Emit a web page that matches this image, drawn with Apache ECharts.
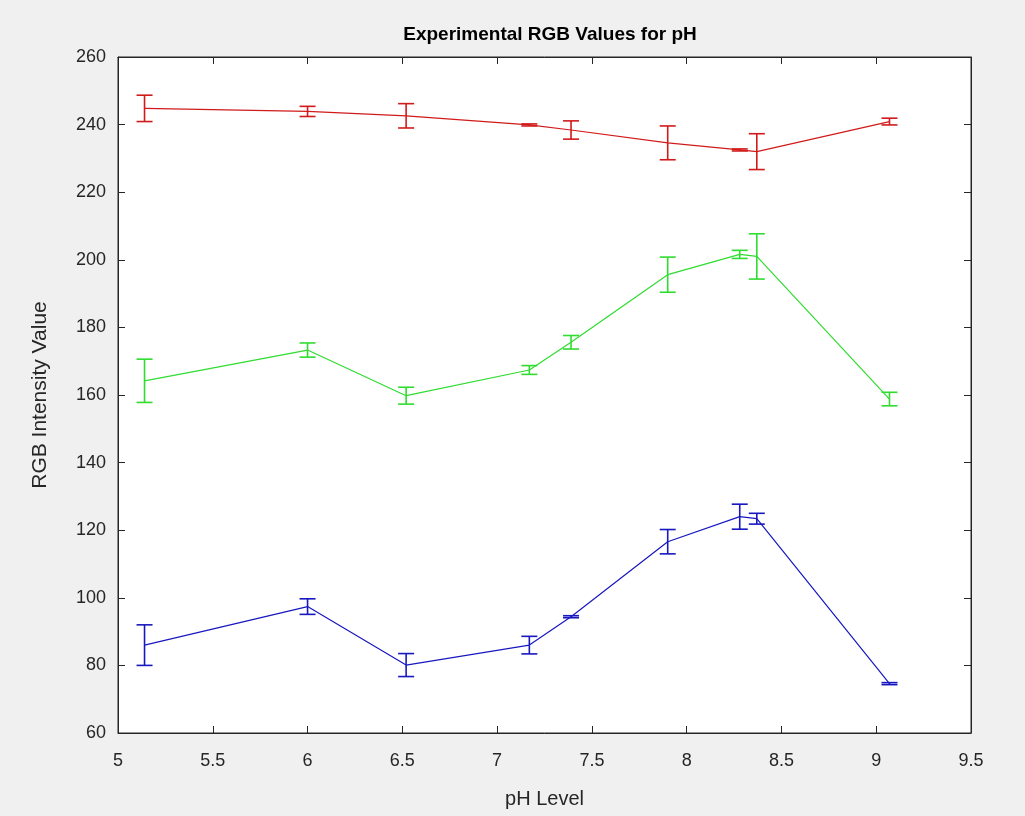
<!DOCTYPE html>
<html>
<head>
<meta charset="utf-8">
<script src="https://cdn.jsdelivr.net/npm/echarts@6/dist/echarts.min.js"></script>
<style>
html,body{margin:0;padding:0;background:#f0f0f0;}
#c{width:1025px;height:816px;}
</style>
</head>
<body>
<div id="c"></div>
<script>
const phLevels = [5.14, 6.0, 6.52, 7.17, 7.39, 7.9, 8.28, 8.37, 9.07];
const redValues   = [244.8, 243.9, 242.6, 239.9, 238.4, 234.6, 232.5, 232.0, 240.9];
const redErrors   = [3.9, 1.5, 3.6, 0.3, 2.7, 5.0, 0.3, 5.3, 1.0];
const greenValues = [164.2, 173.3, 159.8, 167.4, 175.6, 195.6, 201.6, 201.0, 158.8];
const greenErrors = [6.4, 2.1, 2.5, 1.3, 2.0, 5.2, 1.2, 6.7, 2.0];
const blueValues  = [86.0, 97.4, 80.1, 86.0, 94.4, 116.6, 124.0, 123.4, 74.6];
const blueErrors  = [6.0, 2.3, 3.4, 2.6, 0.3, 3.6, 3.7, 1.6, 0.3];
const xTicks = [5, 5.5, 6, 6.5, 7, 7.5, 8, 8.5, 9, 9.5];
const yTicks = [60, 80, 100, 120, 140, 160, 180, 200, 220, 240, 260];

const colors = {red: '#d11a1a', green: '#2fdc2f', blue: '#1818c0'};

function lineSeries(name, vals, color) {
  return {
    name: name, type: 'line', xAxisIndex: 0, yAxisIndex: 0,
    data: phLevels.map((x, i) => [x, vals[i]]),
    symbol: 'none', lineStyle: {color: color, width: 1.2}, z: 3, animation: false
  };
}
function errSeries(name, vals, errs, color) {
  return {
    name: name + ' err', type: 'custom', xAxisIndex: 0, yAxisIndex: 0,
    data: phLevels.map((x, i) => [x, vals[i], errs[i]]),
    renderItem: function (params, api) {
      const x = api.value(0), y = api.value(1), e = api.value(2);
      const top = api.coord([x, y + e]);
      const bot = api.coord([x, y - e]);
      const hw = 8;
      const st = {stroke: color, lineWidth: 1.6};
      return {
        type: 'group',
        children: [
          {type: 'line', shape: {x1: top[0], y1: top[1], x2: bot[0], y2: bot[1]}, style: st},
          {type: 'line', shape: {x1: top[0] - hw, y1: top[1], x2: top[0] + hw, y2: top[1]}, style: st},
          {type: 'line', shape: {x1: bot[0] - hw, y1: bot[1], x2: bot[0] + hw, y2: bot[1]}, style: st}
        ]
      };
    },
    z: 4, animation: false
  };
}

const axisColor = '#262626';
const fam = 'Liberation Sans, Arial, sans-serif';
const labelFont = {color: axisColor, fontSize: 18, fontFamily: fam};

const chart = echarts.init(document.getElementById('c'));
chart.setOption({
  backgroundColor: '#f0f0f0',
  animation: false,
  title: {
    text: 'Experimental RGB Values for pH',
    left: 545, top: 20, textAlign: 'center',
    textStyle: {fontSize: 19, fontWeight: 'bold', color: '#000', fontFamily: fam}
  },
  grid: {left: 118, right: 54, top: 57, bottom: 83, show: true, backgroundColor: '#fff', borderColor: axisColor, borderWidth: 1},
  xAxis: [{
    type: 'value', min: 5, max: 9.5, interval: 0.5, position: 'bottom',
    name: 'pH Level', nameLocation: 'middle', nameGap: 56,
    nameTextStyle: {fontSize: 20, color: axisColor, fontFamily: fam},
    axisLine: {show: true, lineStyle: {color: axisColor, width: 1}},
    axisTick: {show: true, inside: true, length: 7, lineStyle: {color: axisColor}},
    axisLabel: Object.assign({margin: 19, formatter: v => String(v)}, labelFont),
    splitLine: {show: false}
  }, {
    type: 'value', min: 5, max: 9.5, interval: 0.5, position: 'top',
    axisLine: {show: true, lineStyle: {color: axisColor, width: 1}},
    axisTick: {show: true, inside: true, length: 7, lineStyle: {color: axisColor}},
    axisLabel: {show: false}, splitLine: {show: false}
  }],
  yAxis: [{
    type: 'value', min: 60, max: 260, interval: 20, position: 'left',
    name: 'RGB Intensity Value', nameLocation: 'middle', nameGap: 67,
    nameTextStyle: {fontSize: 21, color: axisColor, fontFamily: fam},
    axisLine: {show: true, lineStyle: {color: axisColor, width: 1}},
    axisTick: {show: true, inside: true, length: 7, lineStyle: {color: axisColor}},
    axisLabel: Object.assign({margin: 12}, labelFont),
    splitLine: {show: false}
  }, {
    type: 'value', min: 60, max: 260, interval: 20, position: 'right',
    axisLine: {show: true, lineStyle: {color: axisColor, width: 1}},
    axisTick: {show: true, inside: true, length: 7, lineStyle: {color: axisColor}},
    axisLabel: {show: false}, splitLine: {show: false}
  }],
  series: [
    lineSeries('Red', redValues, colors.red),
    errSeries('Red', redValues, redErrors, colors.red),
    lineSeries('Green', greenValues, colors.green),
    errSeries('Green', greenValues, greenErrors, colors.green),
    lineSeries('Blue', blueValues, colors.blue),
    errSeries('Blue', blueValues, blueErrors, colors.blue)
  ]
});
</script>
</body>
</html>
